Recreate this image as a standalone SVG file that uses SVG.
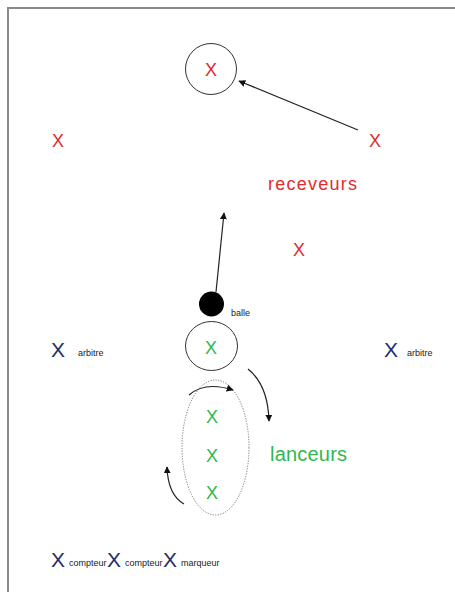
<svg xmlns="http://www.w3.org/2000/svg" width="455" height="592" viewBox="0 0 455 592">
<style>
text{font-family:"Liberation Sans",Arial,sans-serif;}
.x{font-size:18px;text-anchor:middle;}
.red{fill:#e32b2b;}
.grn{fill:#2fb84e;}
.nav{fill:#1e2f6a;}
.bx{font-size:21px;text-anchor:middle;fill:#1e2f6a;}
.sm{font-size:9px;fill:#222;}
.ring{fill:none;stroke:#333;stroke-width:1;}
.conn{fill:none;stroke:#222;stroke-width:1.2;}
</style>
<defs>
<marker id="ah" viewBox="0 0 10 10" refX="9" refY="5" markerWidth="7" markerHeight="7" orient="auto" markerUnits="userSpaceOnUse">
<path d="M0,0 L10,5 L0,10 z" fill="#111"/>
</marker>
</defs>
<rect width="455" height="592" fill="#fff"/>
<path d="M8,592 V8 H455" fill="none" stroke="#8a8a8a" stroke-width="2"/>

<g id="receveur-cible">
<circle class="ring" cx="211" cy="69" r="25.5"/>
<text class="x red" x="211" y="76">X</text>
</g>
<g id="receveur-gauche"><text class="x red" x="58" y="147">X</text></g>
<g id="receveur-droit"><text class="x red" x="375" y="147">X</text></g>
<g id="label-receveurs"><text x="268" y="190" font-size="18" class="red" textLength="89" lengthAdjust="spacing">receveurs</text></g>
<g id="receveur-centre"><text class="x red" x="299" y="256">X</text></g>

<g id="balle">
<circle cx="211.5" cy="304" r="12.5" fill="#000"/>
<text class="sm" x="231" y="316">balle</text>
</g>
<g id="lanceur-actif">
<ellipse class="ring" cx="211.5" cy="346" rx="26" ry="24.5"/>
<text class="x grn" x="211" y="354">X</text>
</g>

<g id="arbitre-gauche">
<text class="bx" x="58" y="357">X</text>
<text class="sm" x="78" y="356">arbitre</text>
</g>
<g id="arbitre-droit">
<text class="bx" x="391" y="357">X</text>
<text class="sm" x="407" y="356">arbitre</text>
</g>

<g id="lanceurs">
<ellipse cx="215.5" cy="447.5" rx="33.5" ry="67.5" fill="none" stroke="#777" stroke-width="1" stroke-dasharray="1.2,1.4"/>
<text class="x grn" x="212" y="423">X</text>
<text class="x grn" x="212" y="462">X</text>
<text class="x grn" x="212" y="499">X</text>
</g>
<g id="label-lanceurs"><text x="270" y="461" font-size="20" class="grn" textLength="77" lengthAdjust="spacing">lanceurs</text></g>

<g id="officiels">
<text class="bx" x="58" y="567">X</text>
<text class="sm" x="69" y="566">compteur</text>
<text class="bx" x="114" y="567">X</text>
<text class="sm" x="125" y="566">compteur</text>
<text class="bx" x="170" y="567">X</text>
<text class="sm" x="181" y="566">marqueur</text>
</g>

<g id="connecteurs">
<line class="conn" x1="358" y1="130" x2="239" y2="81" marker-end="url(#ah)"/>
<line class="conn" x1="216" y1="292" x2="224" y2="213" marker-end="url(#ah)"/>
<path class="conn" d="M248,369 Q268,385 269,421" marker-end="url(#ah)"/>
<path class="conn" d="M189,395 Q205,381 233,390" marker-end="url(#ah)"/>
<path class="conn" d="M184,504 Q168,495 167,467" marker-end="url(#ah)"/>
</g>
</svg>
